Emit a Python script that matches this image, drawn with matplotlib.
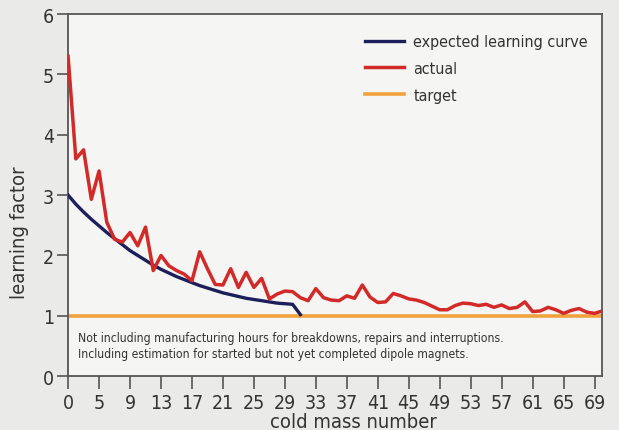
import numpy as np
import matplotlib.pyplot as plt
from matplotlib import font_manager

# learning factor per cold mass (index along the production sequence)
actual = [5.30, 3.60, 3.75, 2.93, 3.40, 2.55, 2.27, 2.22, 2.38, 2.16,
          2.47, 1.75, 2.00, 1.83, 1.75, 1.69, 1.58, 2.06, 1.78, 1.52,
          1.51, 1.78, 1.47, 1.72, 1.47, 1.62, 1.28, 1.36, 1.41, 1.40,
          1.30, 1.25, 1.45, 1.30, 1.26, 1.25, 1.33, 1.29, 1.51, 1.31,
          1.22, 1.23, 1.37, 1.33, 1.28, 1.26, 1.22, 1.16, 1.10, 1.10,
          1.17, 1.21, 1.20, 1.17, 1.19, 1.14, 1.18, 1.12, 1.14, 1.23,
          1.07, 1.08, 1.14, 1.10, 1.04, 1.09, 1.12, 1.06, 1.04, 1.08]
expected = [3.00, 2.85, 2.72, 2.60, 2.49, 2.38, 2.28, 2.18, 2.08, 2.00,
            1.92, 1.84, 1.77, 1.71, 1.65, 1.60, 1.55, 1.50, 1.46, 1.42,
            1.38, 1.35, 1.32, 1.29, 1.27, 1.25, 1.23, 1.21, 1.20, 1.19,
            1.02]
target = 1.0

tick_pos = list(range(0, 69, 4))
tick_labels = ["0"] + [str(p + 1) for p in tick_pos[1:]]

x_actual = np.arange(len(actual))
x_expected = np.arange(len(expected))

# narrow face if available
names = {f.name for f in font_manager.fontManager.ttflist}
narrow = [n for n in ['Liberation Sans Narrow', 'DejaVu Sans Condensed'] if n in names]
plt.rcParams['font.family'] = narrow + ['DejaVu Sans']
plt.rcParams['font.stretch'] = 'condensed'

fig = plt.figure(figsize=(6.19, 4.31), dpi=100)
fig.patch.set_facecolor('#eaeae8')
ax = fig.add_axes([0.110, 0.125, 0.863, 0.840])
ax.set_facecolor('#f5f5f3')

ax.plot(x_actual, [target] * len(x_actual), color='#f0a23c', lw=2.6,
        label='target', zorder=2)
ax.plot(x_expected, expected, color='#1c1f5a', lw=2.4,
        label='expected learning curve', zorder=3)
ax.plot(x_actual, actual, color='#d22a28', lw=2.5, solid_joinstyle='round',
        label='actual', zorder=4)

ax.set_xlim(0, 69)
ax.set_ylim(0, 6)
ax.set_xticks(tick_pos)
ax.set_xticklabels(tick_labels)
ax.set_yticks(range(0, 7))

for s in ax.spines.values():
    s.set_color('#555555')
    s.set_linewidth(1.3)
ax.tick_params(axis='both', colors='#555555', labelcolor='#333333',
               labelsize=14, width=1.2)
ax.tick_params(axis='x', length=9, pad=3)
ax.tick_params(axis='y', length=8, pad=2)

ax.set_xlabel('cold mass number', fontsize=14.5, color='#333333')
ax.set_ylabel('learning factor', fontsize=14.5, color='#333333')
ax.xaxis.set_label_coords(0.535, -0.098)
ax.yaxis.set_label_coords(-0.074, 0.40)

handles, labels = ax.get_legend_handles_labels()
order = [1, 2, 0]
ax.legend([handles[i] for i in order], [labels[i] for i in order],
          loc='upper right', bbox_to_anchor=(0.985, 0.962), borderaxespad=0,
          frameon=False, fontsize=11.5, handlelength=2.45, handletextpad=0.55,
          labelspacing=0.74, labelcolor='#333333')

ax.text(1.3, 0.51,
        'Not including manufacturing hours for breakdowns, repairs and interruptions.\n'
        'Including estimation for started but not yet completed dipole magnets.',
        fontsize=8.7, color='#333333', va='center', linespacing=1.35)

fig.savefig('out.png', dpi=100, facecolor=fig.get_facecolor())
